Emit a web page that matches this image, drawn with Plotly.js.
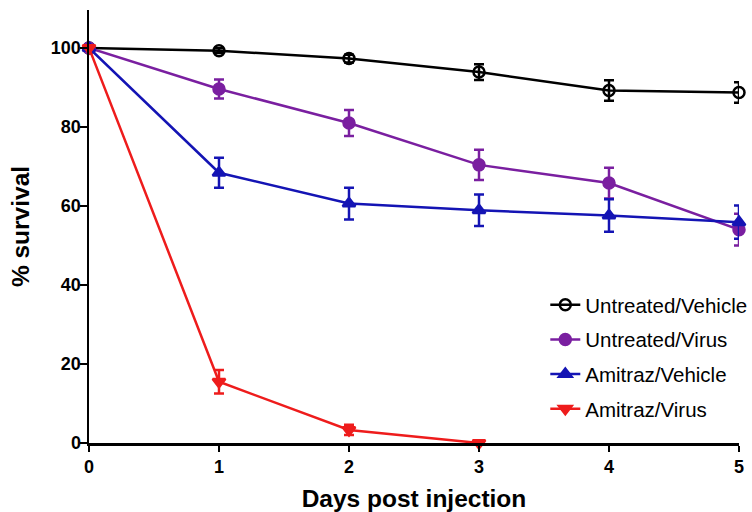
<!DOCTYPE html>
<html>
<head>
<meta charset="utf-8">
<script src="https://cdn.plot.ly/plotly-3.0.1.min.js"></script>
<style>html,body{margin:0;padding:0;background:#fff;}#chart{width:752px;height:512px;}</style>
</head>
<body>
<div id="chart"></div>
<script>
var days = [0, 1, 2, 3, 4, 5];
var seriesNames = ["Untreated/Vehicle", "Untreated/Virus", "Amitraz/Vehicle", "Amitraz/Virus"];
var untreatedVehicle = [100, 99.3, 97.3, 93.9, 89.2, 88.7];
var untreatedVehicleErr = [0, 0.6, 1.0, 2.0, 2.6, 2.6];
var untreatedVirus = [100, 89.6, 81.0, 70.4, 65.8, 54.0];
var untreatedVirusErr = [0, 2.4, 3.3, 3.8, 3.9, 4.0];
var amitrazVehicle = [100, 68.4, 60.6, 58.9, 57.6, 55.9];
var amitrazVehicleErr = [0, 3.8, 4.0, 4.0, 4.1, 4.2];
var amitrazVirusDays = [0, 1, 2, 3];
var amitrazVirus = [100, 15.5, 3.3, 0];
var amitrazVirusErr = [0, 3.0, 1.3, 0];
var yTicks = [0, 20, 40, 60, 80, 100];
var xTicks = [0, 1, 2, 3, 4, 5];

function tr(name, x, y, err, color, symbol, group) {
  return {
    type: 'scatter', mode: 'lines+markers', name: name, x: x, y: y,
    legendgroup: group,
    line: {color: color, width: 2.5},
    marker: {color: color, symbol: symbol, size: 11, line: {color: color, width: 2.5}},
    error_y: {type: 'data', array: err, visible: true, color: color, thickness: 2.5, width: 5},
    cliponaxis: false
  };
}

var data = [
  tr(seriesNames[0], days, untreatedVehicle, untreatedVehicleErr, '#000000', 'circle-open', 'a'),
  tr(seriesNames[1], days, untreatedVirus, untreatedVirusErr, '#7a1fa0', 'circle', 'b'),
  tr(seriesNames[2], days, amitrazVehicle, amitrazVehicleErr, '#1414b4', 'triangle-up', 'c'),
  tr(seriesNames[3], amitrazVirusDays, amitrazVirus, amitrazVirusErr, '#ee1c1c', 'triangle-down', 'd')
];

var fam = 'Liberation Sans, Arial, sans-serif';
var tickFont = {family: fam, size: 18, weight: 'bold', color: '#000'};
var layout = {
  width: 752, height: 512,
  margin: {l: 89, r: 13, t: 10, b: 69, autoexpand: false},
  paper_bgcolor: '#fff', plot_bgcolor: '#fff',
  showlegend: true,
  xaxis: {
    range: [0, 5], tickvals: xTicks, ticktext: xTicks.map(String),
    showline: true, linecolor: '#000', linewidth: 2.5,
    ticks: 'outside', ticklen: 6, tickwidth: 2.5, tickcolor: '#000',
    showgrid: false, zeroline: false, tickfont: tickFont,
    title: {text: 'Days post injection', font: {family: fam, size: 24.5, weight: 'bold', color: '#000'}}
  },
  yaxis: {
    range: [0, 109.6], tickvals: yTicks, ticktext: yTicks.map(String),
    showline: true, linecolor: '#000', linewidth: 2.5,
    ticks: 'outside', ticklen: 7, tickwidth: 2.5, tickcolor: '#000',
    ticklabelstandoff: -5,
    showgrid: false, zeroline: false, tickfont: tickFont,
    title: {text: '% survival', font: {family: fam, size: 24.5, weight: 'bold', color: '#000'}}
  },
  legend: {
    x: 0.702, y: 0.365, xanchor: 'left', yanchor: 'top',
    bgcolor: 'rgba(255,255,255,0)', traceorder: 'grouped', tracegroupgap: 5,
    font: {family: fam, size: 20.5, color: '#000'}
  }
};

Plotly.newPlot('chart', data, layout, {staticPlot: true});
</script>
</body>
</html>
